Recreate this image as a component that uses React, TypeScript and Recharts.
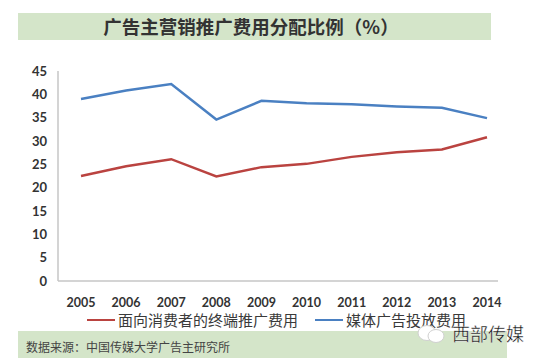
import { CartesianGrid, Line, LineChart, XAxis, YAxis } from "recharts";

const years = ["2005", "2006", "2007", "2008", "2009", "2010", "2011", "2012", "2013", "2014"];
const terminalPromo = [22.5, 24.6, 26.1, 22.4, 24.4, 25.1, 26.6, 27.6, 28.2, 30.8];
const mediaAds = [39.0, 40.8, 42.2, 34.6, 38.6, 38.1, 37.9, 37.4, 37.1, 34.9];
const yTicks = [0, 5, 10, 15, 20, 25, 30, 35, 40, 45];

const seriesNames = ["面向消费者的终端推广费用", "媒体广告投放费用"];
const seriesColors = ["#BA4340", "#4A80C2"];

const title = "广告主营销推广费用分配比例（%）";
const source = "数据来源：中国传媒大学广告主研究所";
const watermark = "西部传媒";

const data = years.map((year, i) => ({
  year,
  terminal: terminalPromo[i],
  media: mediaAds[i],
}));

const cjk = '"Noto Sans CJK SC", "Noto Sans", sans-serif';

const App = () => {
  return (
    <div
      style={{
        position: "absolute",
        left: 0,
        top: 0,
        width: 540,
        height: 360,
        background: "#ffffff",
        overflow: "hidden",
      }}
    >
      {/* title band */}
      <div
        style={{
          position: "absolute",
          left: 18,
          top: 13,
          width: 473,
          height: 27,
          background: "#d4e5c9",
        }}
      />
      <div
        style={{
          position: "absolute",
          left: 0,
          top: 13,
          width: 502,
          height: 27,
          lineHeight: "27px",
          textAlign: "center",
          fontFamily: cjk,
          fontWeight: 700,
          fontSize: 18.5,
          color: "#333333",
        }}
      >
        {title}
      </div>

      <div style={{ position: "absolute", left: 0, top: 0 }}>
        <LineChart
          width={540}
          height={360}
          data={data}
          margin={{ top: 71, right: 42, bottom: 49, left: 0 }}
        >
          <CartesianGrid vertical={false} horizontal={false} />
          <XAxis
            dataKey="year"
            height={30}
            padding={{ left: 23, right: 11 }}
            tickLine={false}
            tickSize={0}
            tickMargin={17}
            axisLine={{ stroke: "#c6c6c6", strokeWidth: 1.5 }}
            tick={{
              fill: "#333333",
              fontFamily: "Lato, sans-serif",
              fontWeight: 700,
              fontSize: 12.5,
            }}
          />
          <YAxis
            width={58}
            domain={[0, 45]}
            ticks={yTicks}
            interval={0}
            tickLine={false}
            tickSize={0}
            tickMargin={11}
            axisLine={{ stroke: "#c6c6c6", strokeWidth: 1.5 }}
            tick={{
              fill: "#333333",
              fontFamily: "Lato, sans-serif",
              fontWeight: 700,
              fontSize: 13,
            }}
          />
          <Line
            type="linear"
            dataKey="terminal"
            name={seriesNames[0]}
            stroke={seriesColors[0]}
            strokeWidth={2.5}
            dot={false}
            isAnimationActive={false}
          />
          <Line
            type="linear"
            dataKey="media"
            name={seriesNames[1]}
            stroke={seriesColors[1]}
            strokeWidth={2.5}
            dot={false}
            isAnimationActive={false}
          />
        </LineChart>
      </div>

      {/* legend */}
      {seriesNames.map((name, i) => (
        <div
          key={name}
          style={{
            position: "absolute",
            left: i === 0 ? 87 : 315,
            top: 312,
            height: 16,
            lineHeight: "16px",
            display: "flex",
            alignItems: "center",
            fontFamily: cjk,
            fontSize: 15,
            color: "#3a3a3a",
            whiteSpace: "nowrap",
          }}
        >
          <span
            style={{
              display: "inline-block",
              width: 28,
              height: 2.5,
              background: seriesColors[i],
              marginRight: 3,
            }}
          />
          {name}
        </div>
      ))}

      {/* source band */}
      <div
        style={{
          position: "absolute",
          left: 18,
          top: 331,
          width: 489,
          height: 27,
          background: "#d4e5c9",
        }}
      />
      <div
        style={{
          position: "absolute",
          left: 26,
          top: 338,
          fontFamily: cjk,
          fontSize: 12,
          color: "#444444",
          whiteSpace: "nowrap",
        }}
      >
        {source}
      </div>

      {/* watermark */}
      <svg
        style={{ position: "absolute", left: 416, top: 323 }}
        width={32}
        height={22}
      >
        <ellipse cx={11} cy={10} rx={9} ry={7.5} fill="#ffffff" stroke="#d0d0d0" strokeWidth={1} />
        <ellipse cx={20} cy={13} rx={8} ry={6.5} fill="#ffffff" stroke="#d0d0d0" strokeWidth={1} />
      </svg>
      <div
        style={{
          position: "absolute",
          left: 452,
          top: 320,
          fontFamily: cjk,
          fontSize: 18,
          color: "#111111",
          whiteSpace: "nowrap",
          WebkitTextStroke: "0.3px #ffffff",
        }}
      >
        {watermark}
      </div>
    </div>
  );
};

export default App;
